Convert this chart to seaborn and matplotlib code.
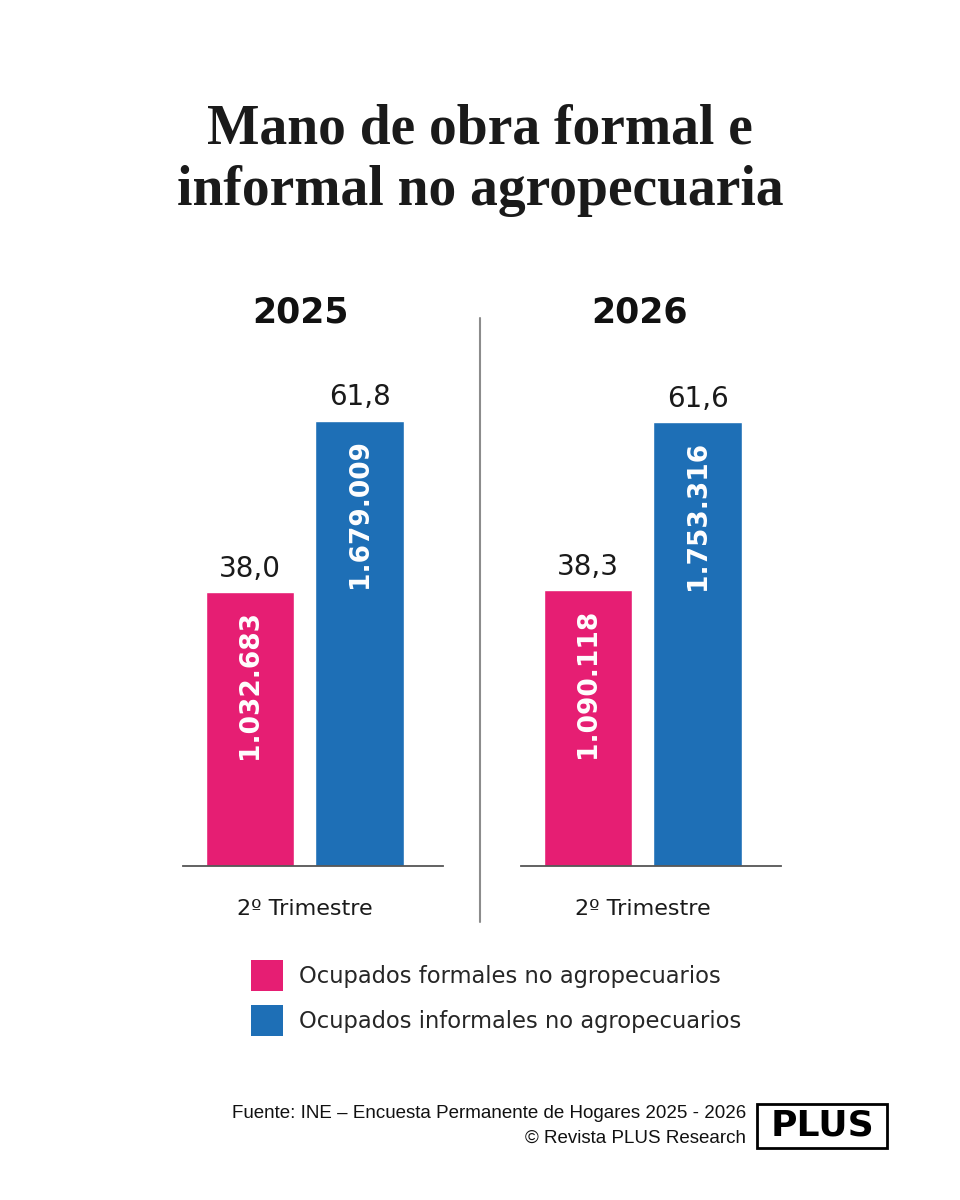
import pandas as pd
import matplotlib
matplotlib.use("Agg")
import matplotlib.pyplot as plt
import seaborn as sns
from matplotlib.patches import Patch, Rectangle
from matplotlib.lines import Line2D

# data
years = ["2025", "2026"]
periodo = "2º Trimestre"
series = ["Ocupados formales no agropecuarios", "Ocupados informales no agropecuarios"]
pct_formal = [38.0, 38.3]
pct_informal = [61.8, 61.6]
n_formal = [1032683, 1090118]
n_informal = [1679009, 1753316]
colors = ["#E61E73", "#1E6FB6"]

rows = []
for i, y in enumerate(years):
    rows.append({"year": y, "periodo": periodo, "serie": series[0], "pct": pct_formal[i], "n": n_formal[i]})
    rows.append({"year": y, "periodo": periodo, "serie": series[1], "pct": pct_informal[i], "n": n_informal[i]})
df = pd.DataFrame(rows)

sns.set_theme(style="white")
plt.rcParams['font.family'] = ['DejaVu Sans']

fig = plt.figure(figsize=(9.6, 12), dpi=100)
fig.patch.set_facecolor("white")

axes_left = [183 / 960, 521 / 960]
for i, y in enumerate(years):
    ax = fig.add_axes([axes_left[i], 1 - 866 / 1200, 260 / 960, 0.42])
    sub = df[df["year"] == y]
    sns.barplot(data=sub, x="periodo", y="pct", hue="serie", hue_order=series,
                palette=colors, saturation=1, width=0.8, gap=0.19,
                legend=False, ax=ax)
    ax.set_ylim(0, 70)
    ax.set_xlim(-0.445, 0.505)
    ax.set_xlabel("")
    ax.set_ylabel("")
    ax.set_yticks([])
    for s in ["left", "right", "top"]:
        ax.spines[s].set_visible(False)
    ax.spines["bottom"].set_color("#555555")
    ax.spines["bottom"].set_linewidth(1.3)
    ax.tick_params(axis="x", length=0, pad=24, labelsize=16, labelcolor="#1a1a1a")

    for k, cont in enumerate(ax.containers):
        vals = sub[sub["serie"] == series[k]]
        for bar, p, n in zip(cont, vals["pct"], vals["n"]):
            cx = bar.get_x() + bar.get_width() / 2
            top = bar.get_height()
            ax.annotate(f"{p:.1f}".replace(".", ","), (cx, top), xytext=(0, 7),
                        textcoords="offset points", ha="center", va="bottom",
                        fontsize=20, color="#1a1a1a")
            ax.annotate(f"{n:,}".replace(",", "."), (cx, top), xytext=(0, -13),
                        textcoords="offset points", ha="center", va="top",
                        rotation=90, fontsize=19, fontweight="bold", color="white")

    fig.text([300, 640][i] / 960, 1 - 313 / 1200, y, ha="center", va="center",
             fontsize=25, fontweight="bold", color="#111111")

# divider between the two panels
fig.add_artist(Line2D([0.5, 0.5], [1 - 318 / 1200, 1 - 922 / 1200],
                      transform=fig.transFigure, color="#8c8c8c", lw=1.5))

# title
title_font = dict(family="Liberation Serif", fontweight="bold", fontsize=40, color="#1a1a1a")
fig.text(0.5, 1 - 129 / 1200, "Mano de obra formal e", ha="center", va="center", **title_font)
fig.text(0.5, 1 - 191 / 1200, "informal no agropecuaria", ha="center", va="center", **title_font)

# legend
handles = [Patch(facecolor=c, edgecolor="none") for c in colors]
fig.legend(handles, series, loc="upper left", bbox_to_anchor=(251 / 960, 1 - 960 / 1200),
           frameon=False, fontsize=16.3, handlelength=1.4, handleheight=1.75,
           handletextpad=0.7, labelspacing=0.6, borderpad=0, borderaxespad=0)

# footer
foot = dict(family="Liberation Sans", fontsize=13.5, color="#111111", ha="right", va="center")
fig.text(746 / 960, 1 - 1113 / 1200, "Fuente: INE – Encuesta Permanente de Hogares 2025 - 2026", **foot)
fig.text(746 / 960, 1 - 1138 / 1200, "© Revista PLUS Research", **foot)

fig.add_artist(Rectangle((757 / 960, 1 - 1148 / 1200), 130 / 960, 44 / 1200,
                         transform=fig.transFigure, fill=False, ec="black", lw=2))
fig.text(822 / 960, 1 - 1126 / 1200, "PLUS", ha="center", va="center",
         fontsize=26, fontweight="heavy", color="black")

fig.savefig("out.png", dpi=100, facecolor="white")
